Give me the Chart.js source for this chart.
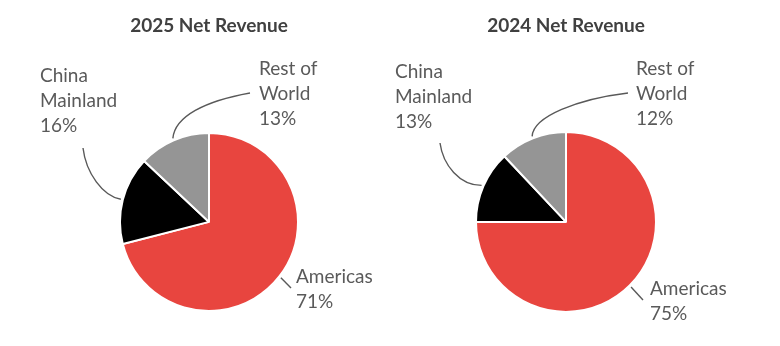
<!DOCTYPE html>
<html>
<head>
<meta charset="utf-8">
<script src="https://cdn.jsdelivr.net/npm/chart.js@4.4.1/dist/chart.umd.min.js"></script>
<style>
  html, body { margin: 0; padding: 0; background: #fff; }
  #wrap { position: relative; width: 780px; height: 346px; }
  .box { position: absolute; top: 0; width: 390px; height: 346px; }
  #box2025 { left: 0; }
  #box2024 { left: 390px; }
</style>
</head>
<body>
<div id="wrap">
  <div class="box" id="box2025"><canvas id="pie2025"></canvas></div>
  <div class="box" id="box2024"><canvas id="pie2024"></canvas></div>
</div>
<script>
const categories = ['Americas', 'China Mainland', 'Rest of World'];
const labelLines = [['Americas'], ['China', 'Mainland'], ['Rest of', 'World']];
const revenue2025 = [71, 16, 13];
const revenue2024 = [75, 13, 12];
const sliceColors = ['#E8453F', '#000000', '#959595'];

const FONT = 'Lato, "Open Sans", sans-serif';
const TEXT_COLOR = '#5a5a5a';

// where each callout sits, canvas-local coords (text x / first baseline, leader end + curve handles)
const callouts2025 = [
    { x: 296, y: 283, end: [291, 288], c1: [0, 0], c2: [0, 0] },
    { x: 40, y: 82, end: [83, 148], c1: [-18, -3], c2: [3, 25] },
    { x: 259, y: 75, end: [250, 93], c1: [2, -22], c2: [-45, 8] }
];
const callouts2024 = [
    { x: 260, y: 295, end: [253, 300], c1: [0, 0], c2: [0, 0] },
    { x: 5, y: 78, end: [50, 143], c1: [-22, 0], c2: [3, 22] },
    { x: 246, y: 75, end: [238, 93], c1: [1, -20], c2: [-50, 6] }
];

const calloutPlugin = {
    id: 'callouts',
    afterDraw(chart, args, opts) {
        const ctx = chart.ctx;
        const arcs = chart.getDatasetMeta(0).data;
        const values = chart.data.datasets[0].data;
        ctx.save();
        arcs.forEach((arc, i) => {
            const c = opts.items[i];
            const mid = (arc.startAngle + arc.endAngle) / 2;
            const r = arc.outerRadius + 2;
            const sx = arc.x + Math.cos(mid) * r;
            const sy = arc.y + Math.sin(mid) * r;
            ctx.strokeStyle = '#595959';
            ctx.lineWidth = 1.4;
            ctx.beginPath();
            ctx.moveTo(sx, sy);
            ctx.bezierCurveTo(sx + c.c1[0], sy + c.c1[1],
                c.end[0] + c.c2[0], c.end[1] + c.c2[1],
                c.end[0], c.end[1]);
            ctx.stroke();

            ctx.fillStyle = TEXT_COLOR;
            ctx.font = `19px ${FONT}`;
            ctx.textAlign = 'left';
            ctx.textBaseline = 'alphabetic';
            const lines = [...labelLines[i], values[i] + '%'];
            lines.forEach((t, k) => ctx.fillText(t, c.x, c.y + k * 24.8));
        });
        ctx.restore();
    }
};

function makePie(id, title, values, callouts, pad) {
    return new Chart(document.getElementById(id), {
        type: 'pie',
        data: {
            labels: categories,
            datasets: [{
                data: values,
                backgroundColor: sliceColors,
                borderColor: '#ffffff',
                borderWidth: 2
            }]
        },
        options: {
            responsive: true,
            maintainAspectRatio: false,
            animation: false,
            layout: { padding: pad },
            plugins: {
                legend: { display: false },
                tooltip: { enabled: false },
                title: {
                    display: true,
                    text: title,
                    color: '#404040',
                    font: { family: FONT, size: 19, weight: 'bold' },
                    padding: { top: 14, bottom: 94 }
                },
                callouts: { items: callouts }
            }
        },
        plugins: [calloutPlugin]
    });
}

makePie('pie2025', '2025 Net Revenue', revenue2025, callouts2025,
    { left: 119, right: 91, top: 0, bottom: 33 });
makePie('pie2024', '2024 Net Revenue', revenue2024, callouts2024,
    { left: 85, right: 123, top: 0, bottom: 33 });
</script>
</body>
</html>
